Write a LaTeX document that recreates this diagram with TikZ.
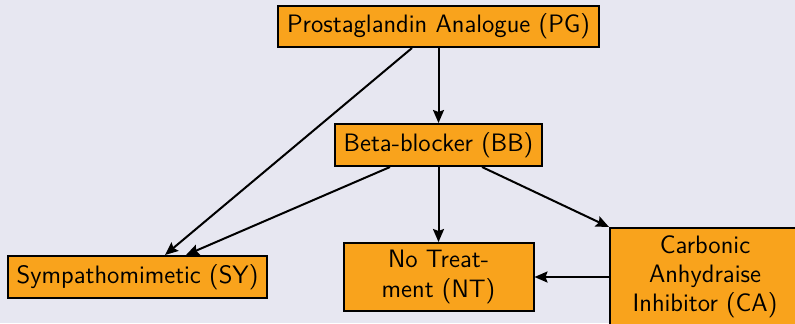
\documentclass[tikz,border=0pt]{standalone}
\usepackage{fontspec}
\usetikzlibrary{arrows.meta}
\definecolor{slidebg}{RGB}{231,231,241}
\definecolor{boxfill}{RGB}{249,163,28}
\tikzset{
  drug/.style={draw=black, line width=1pt, fill=boxfill, inner sep=0pt,
    font=\sffamily\fontsize{12.6}{14.6}\selectfont, align=center},
  link/.style={line width=1pt, -{Stealth[length=6.5pt,width=5.5pt,inset=1pt]}}
}
\begin{document}
\begin{tikzpicture}[x=0.5pt,y=-0.5pt]
  \fill[slidebg] (0,0) rectangle (795,323);
  \useasboundingbox (0,0) rectangle (795,323);

  \node[drug, minimum width=160.5pt, minimum height=20.5pt] (PG) at (438.5,26.5) {Prostaglandin Analogue (PG)};
  \node[drug, minimum width=103.5pt, minimum height=21pt] (BB) at (438.5,145) {Beta-blocker (BB)};
  \node[drug, minimum width=129.5pt, minimum height=21pt] (SY) at (137.5,277) {Sympathomimetic (SY)};
  \node[drug, minimum width=95pt, minimum height=34pt] (NT) at (438.5,277) {No Treat-\\ment (NT)};
  \node[drug, minimum width=95pt, minimum height=49pt] (CA) at (705,277) {Carbonic\\Anhydraise\\Inhibitor (CA)};

  \draw[link] (PG.south) -- (BB.north);
  \draw[link] ([xshift=-13.25pt]PG.south) -- ([xshift=13.75pt]SY.north);
  \draw[link] ([xshift=-24.25pt]BB.south) -- ([xshift=24.25pt]SY.north);
  \draw[link] (BB.south) -- (NT.north);
  \draw[link] ([xshift=21.75pt]BB.south) -- (CA.north west);
  \draw[link] (CA.west) -- (NT.east);
\end{tikzpicture}
\end{document}
